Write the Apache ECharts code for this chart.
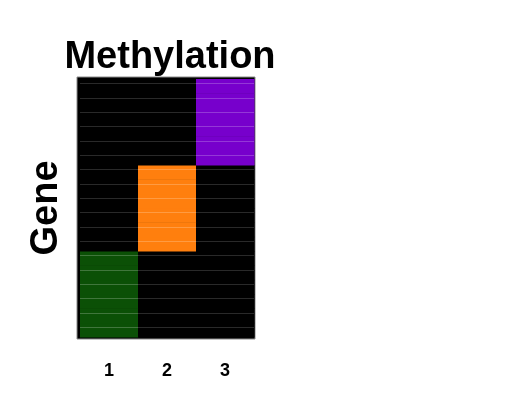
<!DOCTYPE html>
<html>
<head>
<meta charset="utf-8">
<script src="https://cdn.jsdelivr.net/npm/echarts@6/dist/echarts.min.js"></script>
<style>html,body{margin:0;padding:0;background:#fff;}#c{width:532px;height:417px;}</style>
</head>
<body>
<div id="c"></div>
<script>
// Samples (columns) and genes (rows, bottom to top)
var samples = ['1', '2', '3'];
var genes = ['G1','G2','G3','G4','G5','G6','G7','G8','G9','G10','G11','G12','G13','G14','G15','G16','G17','G18'];
// Methylation status per gene for each sample (1 = methylated)
var sample1 = [1,1,1,1,1,1, 0,0,0,0,0,0, 0,0,0,0,0,0];
var sample2 = [0,0,0,0,0,0, 1,1,1,1,1,1, 0,0,0,0,0,0];
var sample3 = [0,0,0,0,0,0, 0,0,0,0,0,0, 1,1,1,1,1,1];

var sampleValues = [sample1, sample2, sample3];
var methColors = ['#0B5006', '#FF7F0E', '#7700CC'];
var baseColor = '#000000';

var cells = [];
sampleValues.forEach(function (vals, si) {
  vals.forEach(function (v, gi) { cells.push([si, gi, v]); });
});

var chart = echarts.init(document.getElementById('c'), null, {renderer: 'canvas'});
chart.setOption({
  animation: false,
  title: {
    text: 'Methylation',
    left: 165, top: 34, textAlign: 'center',
    textStyle: {fontFamily: 'Liberation Sans, Arial, sans-serif', fontWeight: 'bold', fontSize: 38, color: '#000'}
  },
  grid: [
    {left: 77, top: 77, width: 178, height: 262, show: true, backgroundColor: '#000', borderColor: '#8a8a8a', borderWidth: 1},
    {left: 80, top: 79, width: 174, height: 258}
  ],
  xAxis: [
    {gridIndex: 0, type: 'value', show: false, min: 0, max: 1},
    {gridIndex: 1, type: 'category', data: samples, axisLine: {show: false}, axisTick: {show: false},
     splitLine: {show: false},
     axisLabel: {margin: 25, fontFamily: 'Liberation Sans, Arial, sans-serif', fontWeight: 'bold', fontSize: 18, color: '#000'}}
  ],
  yAxis: [
    {gridIndex: 0, type: 'value', show: false, min: 0, max: 1},
    {gridIndex: 1, type: 'category', data: genes, axisLine: {show: false}, axisTick: {show: false},
     axisLabel: {show: false}, splitLine: {show: false},
     name: 'Gene', nameLocation: 'middle', nameRotate: 90, nameGap: 14,
     nameTextStyle: {fontFamily: 'Liberation Sans, Arial, sans-serif', fontWeight: 'bold', fontSize: 38, color: '#000'}}
  ],
  series: [{
    type: 'custom',
    xAxisIndex: 1, yAxisIndex: 1,
    data: cells,
    encode: {x: 0, y: 1},
    renderItem: function (params, api) {
      var si = api.value(0), gi = api.value(1), v = api.value(2);
      var c = api.coord([si, gi]);
      var s = api.size([1, 1]);
      var x0 = c[0] - s[0] / 2, y0 = c[1] - s[1] / 2;
      var ySeam = Math.round(y0 + s[1] * 0.3) + 0.5;
      return {
        type: 'group',
        children: [
          {type: 'rect', shape: {x: x0, y: y0, width: s[0] + 0.5, height: s[1] + 0.5},
           style: {fill: v ? methColors[si] : baseColor}},
          {type: 'line', shape: {x1: x0, y1: ySeam, x2: x0 + s[0], y2: ySeam},
           style: {stroke: v ? 'rgba(255,255,255,0.22)' : 'rgba(255,255,255,0.16)', lineWidth: 1}}
        ]
      };
    }
  }]
});
</script>
</body>
</html>
